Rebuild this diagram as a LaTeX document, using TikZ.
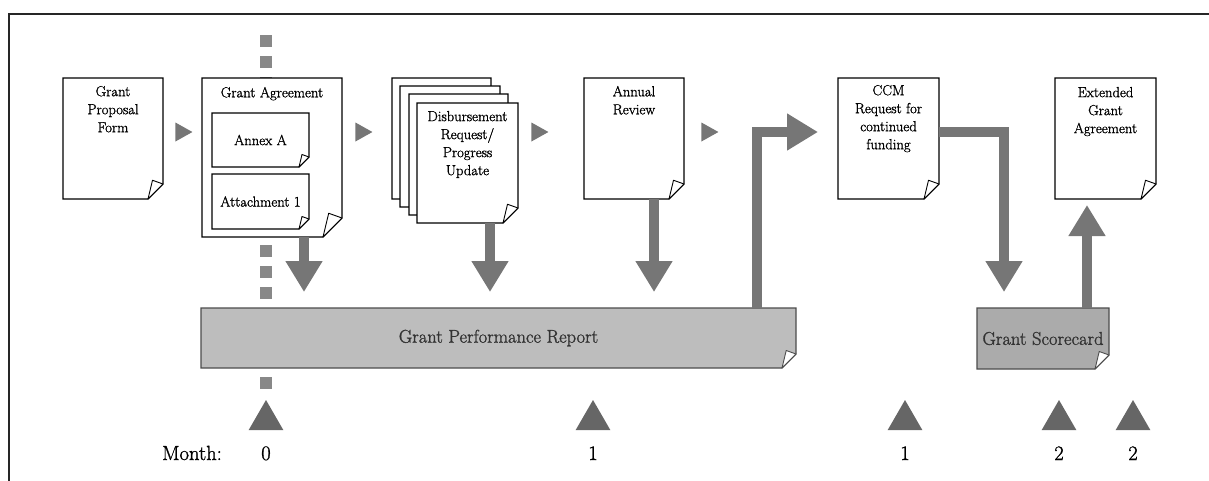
\documentclass[tikz,border=0pt]{standalone}
\usepackage{fontspec}
\newfontfamily\heavyfont{Latin Modern Roman}[FakeBold=1.3]
\usetikzlibrary{arrows.meta,shapes.geometric,calc}
\pgfdeclarelayer{back}
\pgfdeclarelayer{docs}
\pgfsetlayers{back,docs,main}
\definecolor{arrowgray}{HTML}{767676}
\definecolor{bargray}{HTML}{BDBDBD}
\definecolor{scoregray}{HTML}{ABABAB}
\definecolor{trigray}{HTML}{666666}
\definecolor{dashgray}{HTML}{888888}
\definecolor{bartext}{HTML}{333333}
\newcommand\dtext[4]{\begin{minipage}[t][#2pt][t]{#1pt}\centering\vspace*{#3pt}#4\end{minipage}}
\newcommand\docout[4][black]{%
  \begin{pgfonlayer}{docs}
  \filldraw[draw=#1, line width=1.1pt, fill=#3, line join=miter]
    (#2.north west) -- (#2.north east) -- ([yshift=#4]#2.south east)
    -- ([xshift=-#4]#2.south east) -- (#2.south west) -- cycle;
  \filldraw[draw=#1, line width=0.9pt, fill=white, line join=round]
    ([yshift=#4]#2.south east) -- ([xshift=-#4]#2.south east)
    -- ([xshift={-0.7*#4}, yshift={1.25*#4}]#2.south east) -- cycle;
  \end{pgfonlayer}}
\begin{document}
\begin{tikzpicture}[x={(1pt,0pt)}, y={(0pt,-1pt)},
  doc/.style={inner sep=0pt, outer sep=0pt, anchor=north west, font=\heavyfont\fontsize{14.6}{18}\selectfont},
  barlabel/.style={font=\heavyfont\fontsize{18.5}{20}\selectfont, text=bartext},
  blk/.style={draw=arrowgray, line width=10pt, line join=miter, -{Triangle[width=35pt, length=31pt]}},
  rtri/.style={isosceles triangle, isosceles triangle stretches, minimum width=19pt, minimum height=17pt, inner sep=0pt, fill=arrowgray},
  mtri/.style={regular polygon, regular polygon sides=3, minimum size=40pt, inner sep=0pt, fill=trigray},
  mlab/.style={font=\heavyfont\fontsize{20.5}{22}\selectfont, inner sep=0pt},
  timeline/.style={draw=dashgray, line width=12pt, dash pattern=on 12pt off 9pt},
  frame/.style={draw=black!85, line width=2pt}]
\useasboundingbox (0,0) rectangle (1209,480);
% frame (cropped on right and bottom)
\draw[frame] (9,490) -- (9,14) -- (1220,14);
% timeline marker
\begin{pgfonlayer}{back}
\draw[timeline] (266,35) -- (266,302);
\draw[timeline] (266,377) -- (266,389);
\end{pgfonlayer}
% documents
\node[doc] (gpf) at (63,78) {\dtext{100}{121}{8}{Grant\\Proposal\\Form}};
\docout{gpf}{white}{15pt}
\node[doc] (ga) at (202,78) {\dtext{140}{159}{9}{Grant Agreement}};
\docout{ga}{white}{19pt}
\node[doc, minimum width=97pt, minimum height=54pt] (annex) at (212,113) {Annex A};
\docout{annex}{white}{10pt}
\node[doc, minimum width=97pt, minimum height=55pt] (att) at (212,174) {Attachment 1};
\docout{att}{white}{10pt}
\node[doc, minimum width=99pt, minimum height=121pt] (p1) at (392,78) {};
\docout{p1}{white}{14pt}
\node[doc, minimum width=100pt, minimum height=121pt] (p2) at (400,86) {};
\docout{p2}{white}{14pt}
\node[doc, minimum width=99pt, minimum height=121pt] (p3) at (409,94) {};
\docout{p3}{white}{14pt}
\node[doc] (dr) at (417,103) {\dtext{101}{120}{8}{Disbursement\\Request/\\Progress\\Update}};
\docout{dr}{white}{15pt}
\node[doc] (ar) at (584,78) {\dtext{100}{121}{8}{Annual\\Review}};
\docout{ar}{white}{15pt}
\node[doc] (ccm) at (838,78) {\dtext{101}{121}{7}{CCM\\Request for\\continued\\funding}};
\docout{ccm}{white}{15pt}
\node[doc] (ext) at (1055,78) {\dtext{101}{121}{9}{Extended\\Grant\\Agreement}};
\docout{ext}{white}{15pt}
\node[doc, barlabel, minimum width=595pt, minimum height=60pt] (gpr) at (201,308) {Grant Performance Report};
\docout[black!70]{gpr}{bargray}{14pt}
\node[doc, barlabel, minimum width=132pt, minimum height=61pt] (score) at (977,308) {Grant Scorecard};
\docout[black!70]{score}{scoregray}{14pt}
% small flow triangles
\node[rtri] (t1) at (181,132) {};
\node[rtri] (t2) at (361,132) {};
\node[rtri] (t3) at (537,132) {};
\node[rtri] (t4) at (707,132) {};
% block arrows
\coordinate (gaout) at ([xshift=32pt]ga.south);
\draw[blk, shorten >=16pt] (gaout) -- (gaout |- gpr.north);
\coordinate (drout) at ([xshift=22.5pt]dr.south);
\draw[blk, shorten >=16pt] (drout) -- (drout |- gpr.north);
\coordinate (arout) at ([xshift=20pt]ar.south);
\draw[blk, shorten >=16pt] (arout) -- (arout |- gpr.north);
\coordinate (gprout) at ([xshift=258.5pt]gpr.north);
\coordinate (ccmin) at ([yshift=6.5pt]ccm.west);
\draw[blk, shorten >=20pt] (gprout) |- (ccmin);
\coordinate (ccmout) at ([yshift=6.5pt]ccm.east);
\coordinate (scin) at ([xshift=-39pt]score.north);
\draw[blk, shorten >=16pt] (ccmout) -| (scin);
\coordinate (scout) at ([xshift=44pt]score.north);
\draw[blk, shorten >=6pt] (scout) -- (scout |- ext.south);
% month markers
\node[mtri] (m0) at (266,420) {};
\node[mtri] (m1) at (593,420) {};
\node[mtri] (m2) at (905,420) {};
\node[mtri] (m3) at (1059,420) {};
\node[mtri] (m4) at (1133,420) {};
\node[mlab, anchor=base east] (mon) at (222,460) {Month:};
\node[mlab, anchor=base] (l0) at (m0 |- 0,460) {0};
\node[mlab, anchor=base] (l1) at (m1 |- 0,460) {1};
\node[mlab, anchor=base] (l2) at (m2 |- 0,460) {1};
\node[mlab, anchor=base] (l3) at (m3 |- 0,460) {2};
\node[mlab, anchor=base] (l4) at (m4 |- 0,460) {2};
\end{tikzpicture}
\end{document}
